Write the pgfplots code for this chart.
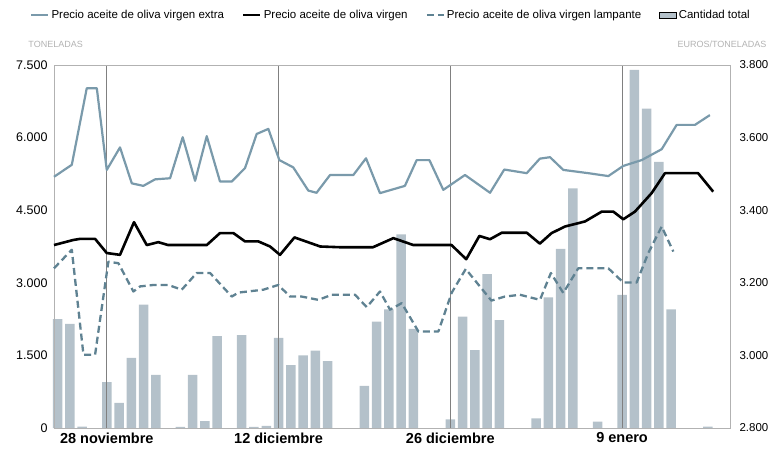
\documentclass[border=0pt]{standalone}
\usepackage{fontspec}
\setmainfont{Liberation Sans}
\usepackage{pgfplots}
\pgfplotsset{compat=1.18}
\definecolor{extracol}{RGB}{122,154,171}
\definecolor{lampcol}{RGB}{95,130,146}
\definecolor{barcol}{RGB}{180,193,202}
\begin{document}
\begin{tikzpicture}[x=1pt,y=1pt]
\useasboundingbox (-54,-27) rectangle (721,428);
\begin{axis}[
 at={(0,0)}, anchor=south west,
 scale only axis, width=676pt, height=363pt,
 xmin=-4.3, xmax=50.8, ymin=0, ymax=7500,
 axis on top,
 x axis line style={draw=none},
 y axis line style={draw=black!30, line width=0.7pt},
 xtick={0,14,28,42},
 xticklabels={28 noviembre,12 diciembre,26 diciembre,9 enero},
 xmajorgrids, major grid style={draw=black!50, line width=0.6pt},
 ytick={0,1500,3000,4500,6000,7500},
 yticklabels={0,1.500,3.000,4.500,6.000,7.500},
 major tick length=0pt,
 xticklabel style={font=\fontsize{14.5}{16}\selectfont\bfseries, yshift=-1pt},
 yticklabel style={font=\fontsize{12.5}{14}\selectfont, xshift=-3pt},
 clip=false,
]
\addplot[ybar, bar width=9.5pt, fill=barcol, draw=none] coordinates {
(-4,2250) (-3,2150) (-2,30) (0,950) (1,520) (2,1450) (3,2550) (4,1100)
(6,25) (7,1100) (8,140) (9,1900) (11,1920) (12,25) (13,45) (14,1860)
(15,1300) (16,1500) (17,1600) (18,1380) (21,870) (22,2200) (23,2450)
(24,4000) (25,2050) (28,180) (29,2300) (30,1610) (31,3180) (32,2230)
(35,200) (36,2700) (37,3700) (38,4950) (40,130) (42,2750) (43,7400)
(44,6600) (45,5500) (46,2450) (49,30)
};
\node[anchor=base west, font=\fontsize{9}{11}\selectfont, text=black!30] at (axis description cs:-0.043,1.047) {TONELADAS};
\node[anchor=base east, font=\fontsize{9}{11}\selectfont, text=black!30] at (axis description cs:1.059,1.047) {EUROS/TONELADAS};
\end{axis}
\begin{axis}[
 at={(0,0)}, anchor=south west,
 scale only axis, width=676pt, height=363pt,
 xmin=-4.3, xmax=50.8, ymin=2800, ymax=3800,
 hide x axis, axis y line*=right, y axis line style={draw=none,-},
 ytick={2800,3000,3200,3400,3600,3800},
 yticklabels={2.800,3.000,3.200,3.400,3.600,3.800},
 major tick length=0pt,
 yticklabel style={font=\fontsize{11.5}{13}\selectfont, xshift=6pt},
 legend style={at={(0.4985,1.138)}, anchor=center, draw=none, fill=none,
   legend columns=4, font=\fontsize{11.5}{13}\selectfont,
   /tikz/every even column/.append style={column sep=16pt}},
 legend cell align=left,
 clip=false,
]
\addplot[extracol, line width=2.2pt, line join=round] table {
-4.3 3492
-2.85 3525
-1.63 3736
-0.81 3736
0 3511
1.08 3573
2.04 3474
2.98 3467
3.94 3485
5.16 3488
6.19 3601
7.2 3481
8.15 3604
9.23 3479
10.19 3479
11.27 3516
12.22 3610
13.17 3624
14.07 3538
15.2 3518
16.43 3454
17.1 3448
18.2 3497
20.1 3497
21.13 3543
22.27 3447
24.3 3467
25.26 3538
26.3 3538
27.43 3456
29.2 3497
31.24 3448
32.4 3512
34.23 3502
35.3 3542
36.13 3546
37.21 3511
39.25 3502
40.88 3494
42.1 3522
43.6 3538
45.23 3568
46.45 3635
47.94 3635
49.16 3662
};
\addlegendentry{Precio aceite de oliva virgen extra}
\addplot[black, line width=2.6pt, line join=round] table {
-4.3 3304
-2.72 3318
-2.18 3321
-0.95 3321
0 3282
1.08 3277
2.22 3367
3.26 3304
4.2 3312
5.0 3304
8.15 3304
9.23 3337
10.32 3337
11.27 3314
12.36 3314
13.31 3300
14.12 3277
15.3 3325
17.4 3300
19.0 3298
21.7 3298
23.36 3323
24.99 3304
28.1 3304
29.3 3265
30.37 3329
31.24 3320
32.2 3338
34.23 3338
35.3 3308
36.26 3337
37.35 3355
38.98 3369
40.34 3396
41.29 3396
42.1 3375
43.05 3396
44.41 3447
45.5 3502
46.3 3502
48.2 3502
49.43 3451
};
\addlegendentry{Precio aceite de oliva virgen}
\addplot[lampcol, line width=2.3pt, dash pattern=on 7pt off 4pt, line join=round] table {
-4.3 3240
-2.85 3291
-1.9 3002
-0.95 3002
0.13 3258
0.95 3254
2.17 3176
2.71 3190
3.8 3194
5.02 3194
6.11 3181
7.33 3227
8.42 3227
10.19 3162
10.72 3173
12.76 3181
13.98 3194
14.94 3162
15.9 3162
17.25 3153
18.34 3167
20.24 3167
21.19 3133
22.27 3176
23.09 3126
24.04 3144
25.4 3066
27.03 3066
28.12 3173
29.26 3238
31.35 3151
32.44 3162
33.68 3167
35.31 3153
36.2 3227
37.21 3172
38.43 3240
40.88 3240
42.1 3201
43.19 3201
44.14 3282
45.23 3355
46.18 3286
};
\addlegendentry{Precio aceite de oliva virgen lampante}
\addlegendimage{area legend, fill=barcol, draw=none}
\addlegendentry{Cantidad total}
\end{axis}
\end{tikzpicture}
\end{document}
